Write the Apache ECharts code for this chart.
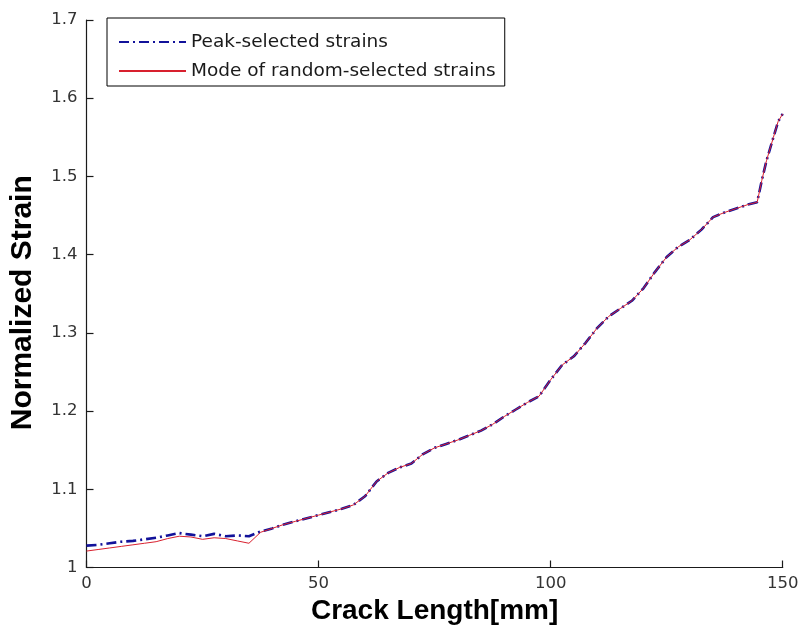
<!DOCTYPE html>
<html>
<head>
<meta charset="utf-8">
<script src="https://cdn.jsdelivr.net/npm/echarts@6/dist/echarts.min.js"></script>
<style>
  html, body { margin: 0; padding: 0; background: #fff; }
  #chart { width: 801px; height: 633px; }
</style>
</head>
<body>
<div id="chart"></div>
<script>
// Crack length positions [mm]
const crackLength = [
  0, 2.5, 5, 7.5, 10, 12.5, 15, 17.5, 20, 22.5, 25, 27.5, 30, 32.5, 35, 37.5,
  40, 42.5, 45, 47.5, 50, 52.5, 55, 57.5, 60, 62.5, 65, 67.5, 70, 72.5, 75,
  77.5, 80, 82.5, 85, 87.5, 90, 92.5, 95, 97.5, 100, 102.5, 105, 107.5, 110,
  112.5, 115, 117.5, 120, 122.5, 125, 127.5, 130, 132.5, 135, 137.5, 140,
  142.5, 144.5, 145.5, 146.5, 148, 149, 150
];

// Normalized strain, peak-selected
const peakSelected = [
  1.028, 1.029, 1.031, 1.033, 1.034, 1.036, 1.038, 1.041, 1.044, 1.042, 1.040, 1.043, 1.040, 1.041, 1.040, 1.046,
  1.050, 1.055, 1.059, 1.063, 1.067, 1.071, 1.075, 1.080, 1.091, 1.110, 1.121, 1.128, 1.133, 1.145, 1.153,
  1.158, 1.163, 1.169, 1.175, 1.183, 1.193, 1.202, 1.211, 1.219, 1.240, 1.259, 1.270, 1.287, 1.306,
  1.321, 1.331, 1.341, 1.357, 1.378, 1.397, 1.410, 1.419, 1.432, 1.448, 1.454, 1.459,
  1.464, 1.467, 1.495, 1.520, 1.550, 1.570, 1.580
];

// Normalized strain, mode of random-selected
const modeRandom = [
  1.021, 1.023, 1.025, 1.027, 1.029, 1.031, 1.033, 1.037, 1.040, 1.039, 1.036, 1.038, 1.037, 1.034, 1.031, 1.045,
  1.050, 1.055, 1.059, 1.063, 1.067, 1.071, 1.075, 1.080, 1.091, 1.110, 1.121, 1.128, 1.133, 1.145, 1.153,
  1.158, 1.163, 1.169, 1.175, 1.183, 1.193, 1.202, 1.211, 1.219, 1.240, 1.259, 1.270, 1.287, 1.306,
  1.321, 1.331, 1.341, 1.357, 1.378, 1.397, 1.410, 1.419, 1.432, 1.448, 1.454, 1.459,
  1.464, 1.467, 1.495, 1.520, 1.550, 1.570, 1.580
];

const seriesNames = ['Peak-selected strains', 'Mode of random-selected strains'];

const pairs = (xs, ys) => xs.map((x, i) => [x, ys[i]]);

const axisColor = '#1a1a1a';
const tickFont = { fontFamily: 'DejaVu Sans', fontSize: 16.5, color: '#333' };

const chart = echarts.init(document.getElementById('chart'), null, { renderer: 'canvas' });
chart.setOption({
  backgroundColor: '#fff',
  animation: false,
  grid: {
    left: 86.5, right: 18.3, top: 20, bottom: 65.5,
    containLabel: false, outerBoundsMode: 'none'
  },
  legend: {
    orient: 'vertical',
    left: 107, top: 18,
    padding: [14, 9, 5, 11],
    itemGap: 9,
    itemWidth: 67,
    itemHeight: 20,
    selectedMode: false,
    backgroundColor: '#fff',
    borderColor: '#000',
    borderWidth: 1,
    borderRadius: 0,
    // line-only keys: hide the marker drawn on top of each sample line
    itemStyle: { opacity: 0 },
    textStyle: { fontFamily: 'DejaVu Sans', fontSize: 18.5, color: '#1a1a1a', lineHeight: 20 },
    data: seriesNames
  },
  xAxis: {
    type: 'value',
    min: 0, max: 150, interval: 50,
    name: 'Crack Length[mm]',
    nameLocation: 'middle',
    nameGap: 29,
    nameTextStyle: { fontFamily: 'Liberation Sans', fontWeight: 'bold', fontSize: 28, color: '#000' },
    axisLine: { show: true, onZero: false, lineStyle: { color: axisColor, width: 1.2 } },
    axisTick: { show: true, inside: true, length: 7, lineStyle: { color: axisColor, width: 1.2 } },
    axisLabel: Object.assign({ margin: 8 }, tickFont),
    splitLine: { show: false }
  },
  yAxis: {
    type: 'value',
    min: 1, max: 1.7, interval: 0.1,
    name: 'Normalized Strain',
    nameLocation: 'middle',
    nameGap: 49,
    nameTextStyle: { fontFamily: 'Liberation Sans', fontWeight: 'bold', fontSize: 30, color: '#000', padding: [0, 18, 0, 0] },
    axisLine: { show: true, onZero: false, lineStyle: { color: axisColor, width: 1.2 } },
    axisTick: { show: true, inside: true, length: 7, lineStyle: { color: axisColor, width: 1.2 } },
    axisLabel: Object.assign({ margin: 9, formatter: v => String(+v.toFixed(1)) }, tickFont),
    splitLine: { show: false }
  },
  series: [
    {
      name: seriesNames[0],
      type: 'line',
      data: pairs(crackLength, peakSelected),
      symbol: 'none',
      lineStyle: { color: '#12129a', width: 2.6, type: [10, 4, 2, 4] },
      itemStyle: { color: '#12129a' },
      z: 2
    },
    {
      name: seriesNames[1],
      type: 'line',
      data: pairs(crackLength, modeRandom),
      symbol: 'none',
      lineStyle: { color: '#d8202e', width: 1 },
      itemStyle: { color: '#d8202e' },
      z: 3
    }
  ]
});
</script>
</body>
</html>
